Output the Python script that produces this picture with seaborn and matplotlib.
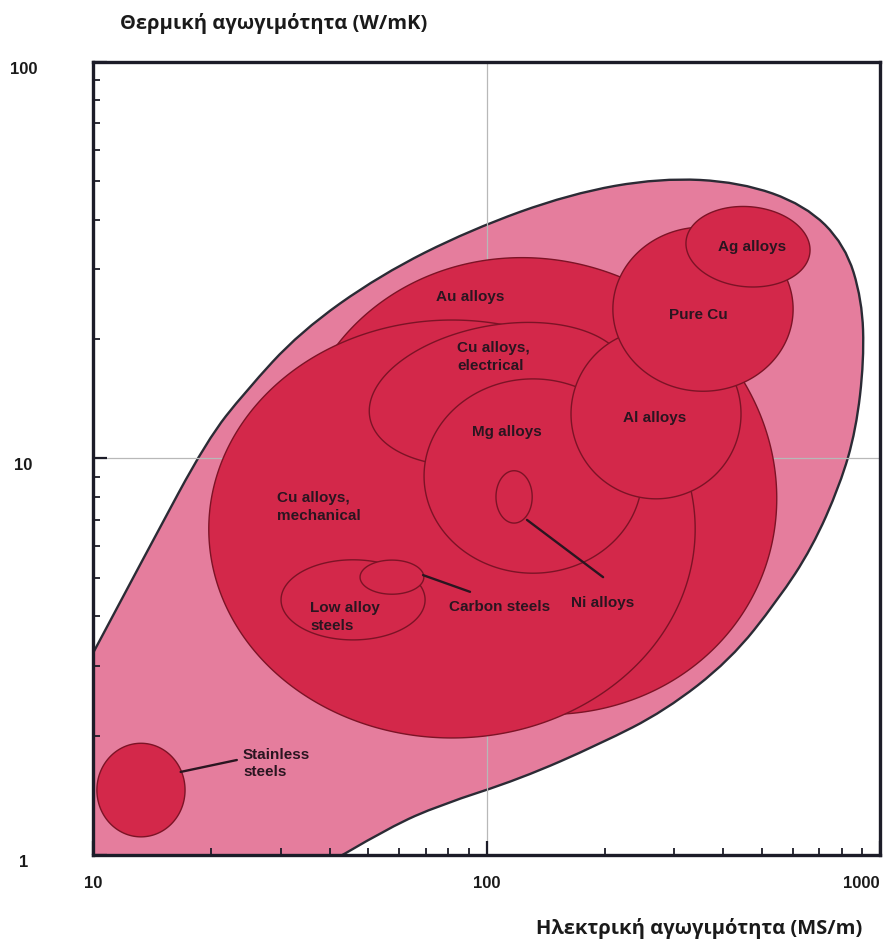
import numpy as np
import pandas as pd
import matplotlib
matplotlib.use("Agg")
import matplotlib.pyplot as plt
from matplotlib.path import Path
from matplotlib.patches import PathPatch
import seaborn as sns

sns.set_style("white")
plt.rcParams['font.family'] = ['Liberation Sans', 'DejaVu Sans']

# material families: centre (electrical, thermal), half-size in decades, tilt in degrees
families = ["Au alloys", "Cu alloys, mechanical", "Cu alloys, electrical", "Mg alloys",
            "Ni alloys", "Al alloys", "Pure Cu", "Ag alloys", "Low alloy steels",
            "Carbon steels", "Stainless steels"]
centre_x = [132.8, 81.7, 107.5, 131.3, 117.5, 269.6, 354.9, 461.8, 45.8, 57.5, 13.24]
centre_y = [8.52, 6.64, 14.5, 9.03, 8.0, 12.95, 23.8, 34.2, 4.40, 5.02, 1.458]
half_x = [0.62, 0.618, 0.333, 0.277, 0.046, 0.216, 0.229, 0.158, 0.183, 0.081, 0.112]
half_y = [0.57, 0.527, 0.175, 0.245, 0.066, 0.214, 0.207, 0.101, 0.101, 0.043, 0.118]
tilt = [-20, 0, 10, 0, 0, 0, 0, -5, 0, 0, 0]

# outline of the whole metals envelope (control points)
env_x = [6.53, 13.96, 19.49, 24.34, 33.57, 53.6, 90.8, 163.0, 276.0, 440.9, 644.8, 815.0,
         900.3, 910.7, 868.9, 791.2, 671.7, 550.6, 415.8, 284.2, 194.2, 121.7, 76.2, 56.9,
         33.6, 6.53]
env_y = [1.458, 6.02, 11.13, 14.72, 20.85, 29.0, 37.7, 46.5, 51.0, 49.8, 43.6, 34.6,
         25.1, 17.7, 11.8, 8.58, 5.95, 4.40, 3.10, 2.31, 1.905, 1.555, 1.337, 1.177,
         0.865, 0.770]

# labels
label_text = ["Au alloys", "Pure Cu", "Ag alloys", "Cu alloys,\nelectrical", "Mg alloys",
              "Al alloys", "Cu alloys,\nmechanical", "Low alloy\nsteels", "Carbon steels",
              "Ni alloys", "Stainless\nsteels"]
label_x = [90.8, 344.7, 472.8, 84.1, 112.7, 268.1, 29.4, 35.6, 108.2, 197.8, 24.06]
label_y = [25.5, 23.0, 34.2, 18.03, 11.66, 12.65, 7.55, 3.98, 4.22, 4.32, 1.70]
label_ha = ["center", "center", "center", "left", "center", "center", "left", "left",
            "center", "center", "left"]

# leader lines
leaders = pd.DataFrame({
    "leader": ["Ni", "Ni", "Carbon", "Carbon", "Stainless", "Stainless"],
    "x": [126.7, 197.8, 68.97, 90.8, 16.7, 23.2],
    "y": [7.0, 5.02, 5.08, 4.61, 1.62, 1.736],
})

pink = "#e57d9d"
red = "#d3284a"
edge = "#7c1326"

fig = plt.figure(figsize=(8.9, 9.46), dpi=100)
ax = fig.add_axes([0.1045, 0.0962, 0.8843, 0.8383])
ax.set_xscale("log")
ax.set_yscale("log")
ax.set_xlim(10, 1000)
ax.set_ylim(1, 100)

# envelope as a smooth closed curve through the control points (in log space)
lx = np.log10(env_x)
ly = np.log10(env_y)
mx = (lx + np.roll(lx, -1)) / 2
my = (ly + np.roll(ly, -1)) / 2
verts = [(10 ** mx[-1], 10 ** my[-1])]
codes = [Path.MOVETO]
for i in range(len(env_x)):
    verts += [(env_x[i], env_y[i]), (10 ** mx[i], 10 ** my[i])]
    codes += [Path.CURVE3, Path.CURVE3]
ax.add_patch(PathPatch(Path(verts, codes), facecolor=pink, edgecolor="#2b2b35",
                       lw=1.7, zorder=0.2))

# bubbles, ellipses in log-log space
t = np.linspace(0, 2 * np.pi, 400)
for i in range(len(families)):
    th = np.radians(tilt[i])
    u = half_x[i] * np.cos(t)
    v = half_y[i] * np.sin(t)
    ex = np.log10(centre_x[i]) + u * np.cos(th) - v * np.sin(th)
    ey = np.log10(centre_y[i]) + u * np.sin(th) + v * np.cos(th)
    ax.fill(10 ** ex, 10 ** ey, facecolor=red, edgecolor=edge, lw=1.0, zorder=1 + i * 0.01)

sns.lineplot(data=leaders, x="x", y="y", units="leader", estimator=None, sort=False,
             color="#2a1520", lw=1.7, legend=False, ax=ax, zorder=3)

for txt, x, y, ha in zip(label_text, label_x, label_y, label_ha):
    ax.text(x, y, txt, ha=ha, va="center", fontsize=11, fontweight="bold",
            color="#2a1520", zorder=4, linespacing=1.3)

ax.grid(True, which="major", color="#b8b8b8", lw=0.9)
ax.set_xticks([10, 100, 1000])
ax.set_xticklabels(["10", "100", "1000"])
ax.set_yticks([1, 10, 100])
ax.set_yticklabels(["1", "10", "100"])
ax.tick_params(which="both", direction="in", left=True, bottom=True, top=False,
               right=False, color="#1c1c28")
ax.tick_params(which="major", length=10, width=1.6)
ax.tick_params(which="minor", length=5, width=1.3)
ax.tick_params(axis="x", which="major", pad=15, labelsize=12)
ax.tick_params(axis="y", which="major", pad=50, labelsize=12)
for lab in ax.get_yticklabels():
    lab.set_horizontalalignment("center")
    lab.set_verticalalignment("top")
ax.get_xticklabels()[-1].set_horizontalalignment("right")
for lab in ax.get_xticklabels() + ax.get_yticklabels():
    lab.set_fontweight("bold")
    lab.set_color("#1a1a1a")

for s in ax.spines.values():
    s.set_color("#1c1c28")
    s.set_linewidth(2.4)
    s.set_zorder(5)

ax.set_ylabel("Θερμική αγωγιμότητα (W/mK)", rotation=0, ha="left", va="center",
              fontsize=14.5, fontweight="bold", family=["Open Sans", "DejaVu Sans"],
              color="#1a1a1a")
ax.yaxis.set_label_coords(0.0343, 1.048)
ax.set_xlabel("Ηλεκτρική αγωγιμότητα (MS/m)", ha="right", va="center",
              fontsize=14.5, fontweight="bold", family=["Open Sans", "DejaVu Sans"],
              color="#1a1a1a")
ax.xaxis.set_label_coords(0.977, -0.093)

fig.savefig("out.png", dpi=100)
